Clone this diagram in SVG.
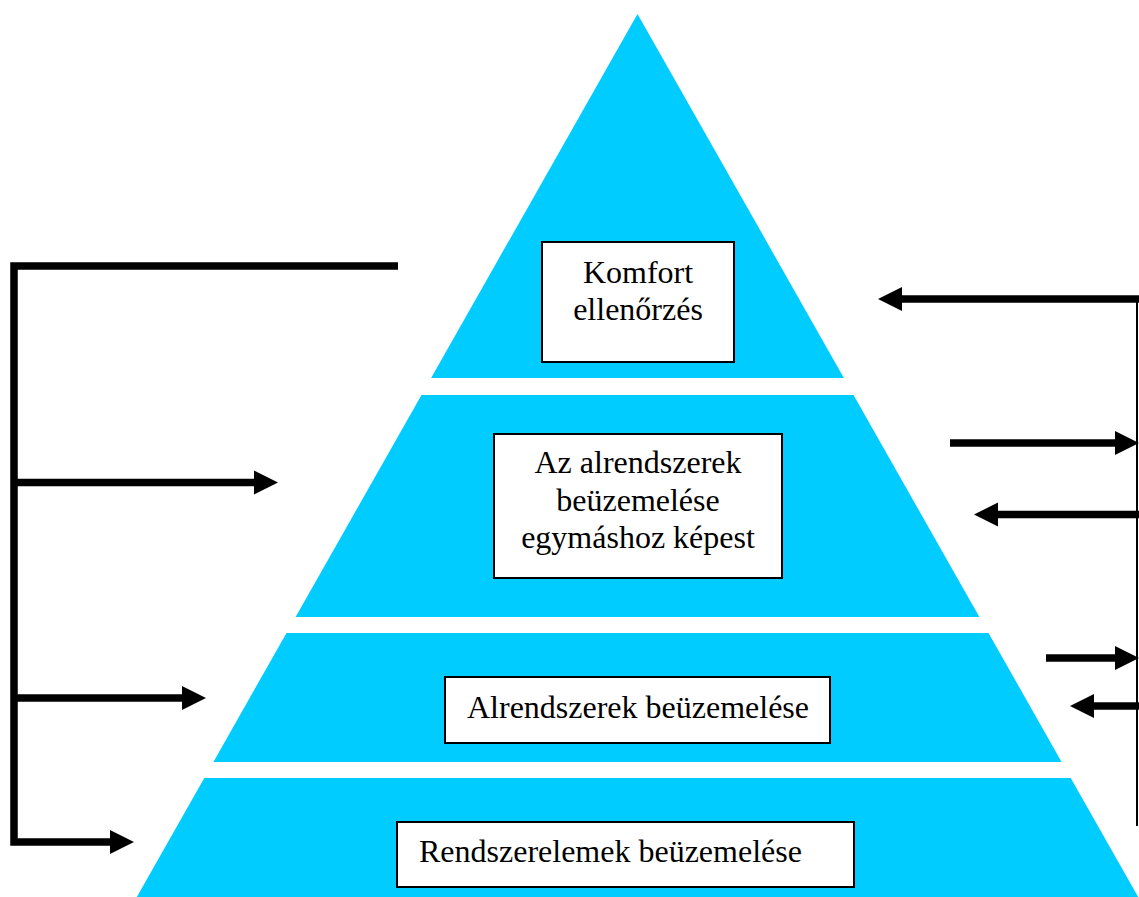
<svg xmlns="http://www.w3.org/2000/svg" width="1139" height="897" viewBox="0 0 1139 897">
  <style>
    .band { fill: #00CCFF; }
    .box { fill: #FFFFFF; stroke: #000000; stroke-width: 2; }
    .label { font-family: "Liberation Serif", "Times New Roman", serif; font-size: 32px; fill: #000000; }
    .mid { text-anchor: middle; }
    .thick { fill: none; stroke: #000000; stroke-width: 7.5; stroke-linejoin: miter; stroke-linecap: butt; }
    .thin { fill: none; stroke: #000000; stroke-width: 2; }
  </style>
  <defs>
    <marker id="head" markerUnits="userSpaceOnUse" markerWidth="24" markerHeight="24" refX="0" refY="12" orient="auto" overflow="visible">
      <path d="M0,0 L24,12 L0,24 Z" fill="#000000"/>
    </marker>
  </defs>
  <rect width="1139" height="897" fill="#FFFFFF"/>

  <g id="level-4">
    <polygon class="band" points="204.3,778 1070.7,778 1138.2,897 136.8,897"/>
    <rect class="box" x="397" y="822" width="457" height="65"/>
    <text class="label" x="419" y="862">Rendszerelemek beüzemelése</text>
  </g>

  <g id="level-3">
    <polygon class="band" points="286.5,633 988.5,633 1061.6,762 213.4,762"/>
    <rect class="box" x="445" y="677" width="385" height="66"/>
    <text class="label mid" x="638" y="718">Alrendszerek beüzemelése</text>
  </g>

  <g id="level-2">
    <polygon class="band" points="421.5,395 853.5,395 979.4,617 295.6,617"/>
    <rect class="box" x="494" y="434" width="288" height="144"/>
    <text class="label mid" x="638" y="473">Az alrendszerek</text>
    <text class="label mid" x="638" y="511">beüzemelése</text>
    <text class="label mid" x="638" y="548">egymáshoz képest</text>
  </g>

  <g id="level-1">
    <polygon class="band" points="637.5,14 843.9,378 431.1,378"/>
    <rect class="box" x="542" y="242" width="192" height="120"/>
    <text class="label mid" x="638" y="283">Komfort</text>
    <text class="label mid" x="638" y="320">ellenőrzés</text>
  </g>

  <g id="connectors">
    <path class="thick" d="M398,266 H14 V842 H110" marker-end="url(#head)"/>
    <path class="thick" d="M14,482.5 H254" marker-end="url(#head)"/>
    <path class="thick" d="M14,698 H182" marker-end="url(#head)"/>

    <path class="thin" d="M1137,298 V826"/>
    <path class="thick" d="M1139,299 H902" marker-end="url(#head)"/>
    <path class="thick" d="M950,443 H1115" marker-end="url(#head)"/>
    <path class="thick" d="M1139,514.5 H998" marker-end="url(#head)"/>
    <path class="thick" d="M1046,658 H1115" marker-end="url(#head)"/>
    <path class="thick" d="M1139,706 H1094" marker-end="url(#head)"/>
  </g>
</svg>
